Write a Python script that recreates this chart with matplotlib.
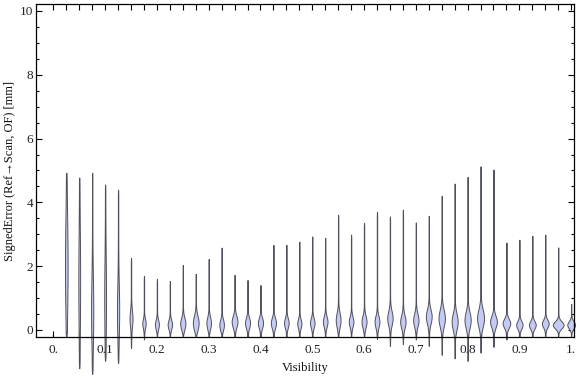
import numpy as np
import matplotlib
matplotlib.use("Agg")
import matplotlib.pyplot as plt
from matplotlib.ticker import FixedLocator, MultipleLocator

# bin centres (visibility)
positions = [0.025, 0.05, 0.075, 0.1, 0.125, 0.15, 0.175, 0.2, 0.225, 0.25,
             0.275, 0.3, 0.325, 0.35, 0.375, 0.4, 0.425, 0.45, 0.475, 0.5,
             0.525, 0.55, 0.575, 0.6, 0.625, 0.65, 0.675, 0.7, 0.725, 0.75,
             0.775, 0.8, 0.825, 0.85, 0.875, 0.9, 0.925, 0.95, 0.975, 1.0]
# maximum signed error per bin [mm]
tops = [4.93, 4.78, 4.93, 4.56, 4.40, 2.26, 1.70, 1.60, 1.54, 2.04,
        1.76, 2.23, 2.58, 1.73, 1.57, 1.41, 2.67, 2.67, 2.77, 2.93,
        2.89, 3.61, 2.99, 3.36, 3.71, 3.56, 3.77, 3.37, 3.58, 4.21,
        4.59, 4.80, 5.13, 5.03, 2.74, 2.83, 2.95, 2.99, 2.59, 0.82]
# minimum signed error per bin [mm]
bottoms = [-0.20, -1.20, -1.38, -0.97, -1.04, -0.57, -0.30, -0.22, -0.22, -0.22,
           -0.22, -0.22, -0.22, -0.22, -0.22, -0.22, -0.22, -0.22, -0.22, -0.22,
           -0.22, -0.22, -0.22, -0.22, -0.28, -0.50, -0.45, -0.30, -0.50, -0.78,
           -0.89, -0.97, -0.71, -0.53, -0.30, -0.22, -0.20, -0.20, -0.18, -0.20]
# location of the density peak [mm]
modes = [2.0, 1.5, 0.6, 1.0, 0.6, 0.35, 0.2, 0.17, 0.17, 0.2,
         0.22, 0.22, 0.16, 0.26, 0.22, 0.22, 0.22, 0.22, 0.2, 0.22,
         0.26, 0.31, 0.26, 0.26, 0.26, 0.37, 0.26, 0.31, 0.42, 0.37,
         0.26, 0.31, 0.37, 0.26, 0.21, 0.16, 0.16, 0.2, 0.16, 0.16]
# relative peak density
peaks = [1.1, 0.7, 0.9, 0.7, 0.9, 1.3, 1.5, 1.8, 2.0, 2.4,
         2.7, 2.1, 2.1, 2.7, 2.3, 2.4, 2.4, 2.1, 1.9, 2.1,
         2.1, 2.2, 2.1, 2.3, 2.2, 2.5, 2.5, 2.5, 2.7, 3.0,
         2.8, 2.9, 3.3, 3.2, 3.6, 3.0, 3.2, 3.2, 5.2, 3.7]
# spread of the density peak [mm]
spreads = [1.5, 1.5, 1.0, 1.2, 0.8, 0.25, 0.14, 0.14, 0.14, 0.18,
           0.22, 0.18, 0.16, 0.18, 0.16, 0.16, 0.16, 0.15, 0.14, 0.15,
           0.16, 0.22, 0.16, 0.18, 0.18, 0.22, 0.2, 0.2, 0.22, 0.26,
           0.25, 0.25, 0.27, 0.18, 0.14, 0.12, 0.12, 0.12, 0.11, 0.11]

xtick_labels = ["0.", "0.1", "0.2", "0.3", "0.4", "0.5", "0.6", "0.7", "0.8", "0.9", "1."]
xtick_vals = [0.0, 0.1, 0.2, 0.3, 0.4, 0.5, 0.6, 0.7, 0.8, 0.9, 1.0]

serif = ["Liberation Serif", "DejaVu Serif"]
plt.rcParams["font.family"] = serif

W, H = 576, 377
fig = plt.figure(figsize=(W / 100, H / 100), dpi=100)
x_left, x_right, y_bot, y_top = 36, 573.5, 337.3, 4.3
ax = fig.add_axes([x_left / W, 1 - y_bot / H, (x_right - x_left) / W, (y_bot - y_top) / H])
xlim = (-0.0335, 1.0045)
ylim = (-0.23, 10.21)
ax.set_xlim(*xlim)
ax.set_ylim(*ylim)

# width of one pixel in data units
px = (xlim[1] - xlim[0]) / (x_right - x_left)

fill_c = "#c4caf2"
edge_c = "#50505c"
for x, t, b, m, p, s in zip(positions, tops, bottoms, modes, peaks, spreads):
    y = np.linspace(b, t, 800)
    d = (y - m) / s
    prof = 0.2 + p * np.exp(-0.5 * d ** 2)
    taper = np.clip(np.minimum(y - b, t - y) / 0.15, 0, 1) ** 0.5
    hw = prof * taper * px
    ax.fill_betweenx(y, x - hw, x + hw, facecolor=fill_c, edgecolor=edge_c,
                     linewidth=0.7, clip_on=False, zorder=2)

# ticks
ax.xaxis.set_major_locator(FixedLocator(xtick_vals))
ax.set_xticklabels(xtick_labels)
ax.xaxis.set_minor_locator(FixedLocator(positions))
ax.yaxis.set_major_locator(MultipleLocator(2))
ax.yaxis.set_minor_locator(MultipleLocator(0.5))
ax.tick_params(axis="both", which="both", direction="in", top=True, right=True,
               width=0.8, colors="black", labelsize=9.5)
ax.tick_params(axis="x", which="both", length=4, pad=5)
ax.tick_params(axis="y", which="major", length=4, pad=2)
ax.tick_params(axis="y", which="minor", length=2.5)
ax.tick_params(labelcolor="#222222")
for sp in ax.spines.values():
    sp.set_linewidth(0.9)

ax.set_xlabel("Visibility", fontsize=9, color="#111111")
ax.xaxis.label.set_va("center")
ax.xaxis.set_label_coords(0.5, (y_bot - 368) / (y_bot - y_top))
ax.set_ylabel("SignedError (Ref\u2192Scan, OF) [mm]", fontsize=9, color="#111111")
ax.yaxis.label.set_va("center")
ax.yaxis.label.set_ha("center")
ax.yaxis.set_label_coords((10 - x_left) / (x_right - x_left), 0.5)

fig.savefig("out.png", dpi=100)
